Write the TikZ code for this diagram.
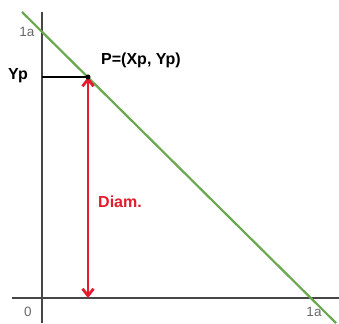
\documentclass[tikz,border=0pt]{standalone}
\usepackage{fontspec}
\setmainfont{Liberation Sans}
\usepackage{xcolor}
\usepackage{tikz}
\definecolor{axisgray}{RGB}{70,70,70}
\definecolor{ticktext}{RGB}{105,105,105}
\definecolor{linegreen}{RGB}{106,168,79}
\definecolor{diamred}{RGB}{226,28,44}
\usetikzlibrary{arrows.meta}

\tikzset{
  ticklabel/.style={font=\fontsize{13.5}{15}\selectfont, text=ticktext, inner sep=0pt},
  marklabel/.style={font=\fontsize{16}{18}\selectfont\bfseries, inner sep=0pt},
  axisline/.style={axisgray, line width=1.6pt},
}

\begin{document}
\begin{tikzpicture}[x=1pt, y=-1pt]
\useasboundingbox (0,0) rectangle (339,323);
% Axes
\coordinate (xl) at (12,298);
\coordinate (xr) at (339,298);
\coordinate (yt) at (42,12);
\coordinate (yb) at (42,323);
\draw[axisline] (xl) -- (xr);
\draw[axisline] (yt) -- (yb);
% Tick labels
\node[ticklabel] (ya) at (27,32) {1a};
\node[ticklabel] (zero) at (28,312) {0};
\node[ticklabel] (xa) at (314,312) {1a};
% Diagonal line
\coordinate (g1) at (22,12);
\coordinate (g2) at (336,323);
\draw[linegreen, line width=2.2pt] (g1) -- (g2);
% Point P and its projections
\coordinate (P) at (88,77);
\coordinate (Py) at (42,77);
\coordinate (Px) at (88,298);
\draw[black, line width=2.4pt] (Py) -- (P);
\draw[diamred, line width=2.8pt, {Straight Barb[length=7pt, width=11pt]}-{Straight Barb[length=7pt, width=11pt]}] (P) -- (Px);
\fill[black] (P) circle (2.5pt);
% Labels
\node[marklabel] (yp) at (18,76) {Yp};
\node[marklabel] (pt) at (141,60) {P=(Xp, Yp)};
\node[marklabel, text=diamred] (diam) at (120,202) {Diam.};
\end{tikzpicture}
\end{document}
